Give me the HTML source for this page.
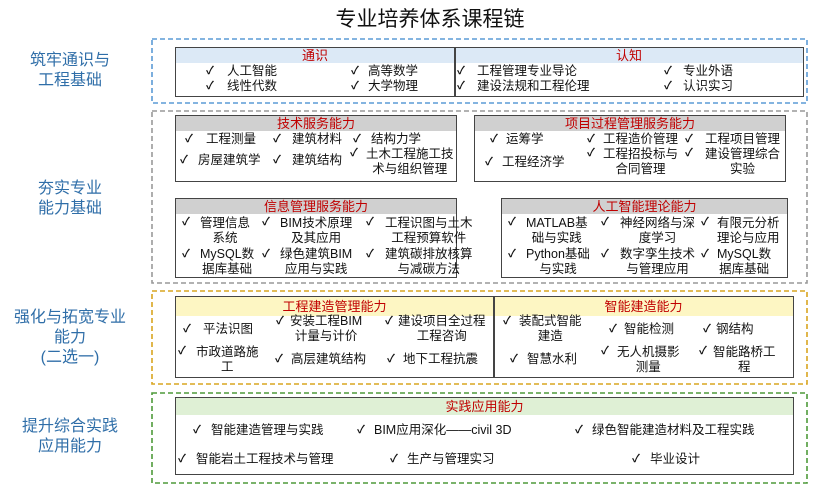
<!DOCTYPE html>
<html><head><meta charset="utf-8"><style>
body{margin:0;width:830px;height:489px;background:#fff;position:relative;overflow:hidden;font-family:"Liberation Sans","Noto Sans CJK SC",sans-serif;}
div,span{position:absolute;box-sizing:border-box;}
.t{font-size:12.5px;line-height:15px;color:#111;white-space:nowrap;}
.c{font-size:11px;line-height:15px;color:#111;font-weight:bold;}
.lab{color:#2f6ea8;font-size:16px;line-height:20px;text-align:center;width:140px;left:0;}
.ib{border:1.5px solid #444;}
.h{color:#c00000;font-size:13px;line-height:15px;text-align:center;}
svg{position:absolute;left:0;top:0;}
</style></head><body>
<div style="left:0;top:7px;width:860px;text-align:center;font-size:21px;line-height:26px;color:#111">专业培养体系课程链</div>

<div class="lab" style="top:51px">筑牢通识与<br>工程基础</div>
<div class="lab" style="top:179px">夯实专业<br>能力基础</div>
<div class="lab" style="top:308px">强化与拓宽专业<br>能力<br>(二选一)</div>
<div class="lab" style="top:417px">提升综合实践<br>应用能力</div>

<svg width="830" height="489" fill="none" stroke-width="1.6" stroke-dasharray="5 3">
<rect x="152" y="39" width="655" height="64" stroke="#5b9bd5"/>
<rect x="152" y="111" width="655" height="172" stroke="#999"/>
<rect x="152" y="291" width="655" height="93" stroke="#d9a520"/>
<rect x="152" y="393" width="655" height="90" stroke="#4e9a3a"/>
</svg>

<!-- 通识/认知 -->
<div class="ib" style="left:175px;top:47px;width:629px;height:50px"></div>
<div style="left:176px;top:48px;width:627px;height:15px;background:#dce9f6"></div>
<div style="left:454px;top:47px;width:1.5px;height:50px;background:#444"></div>
<div class="h" style="left:176px;top:48px;width:278px">通识</div>
<div class="h" style="left:455px;top:48px;width:348px">认知</div>
<span class="c" style="left:206px;top:64px">✓</span><span class="t" style="left:227px;top:64px">人工智能</span>
<span class="c" style="left:351px;top:64px">✓</span><span class="t" style="left:368px;top:64px">高等数学</span>
<span class="c" style="left:206px;top:79px">✓</span><span class="t" style="left:227px;top:79px">线性代数</span>
<span class="c" style="left:351px;top:79px">✓</span><span class="t" style="left:368px;top:79px">大学物理</span>
<span class="c" style="left:457px;top:64px">✓</span><span class="t" style="left:477px;top:64px">工程管理专业导论</span>
<span class="c" style="left:664px;top:64px">✓</span><span class="t" style="left:683px;top:64px">专业外语</span>
<span class="c" style="left:457px;top:79px">✓</span><span class="t" style="left:477px;top:79px">建设法规和工程伦理</span>
<span class="c" style="left:664px;top:79px">✓</span><span class="t" style="left:683px;top:79px">认识实习</span>

<!-- 技术服务能力 -->
<div class="ib" style="left:175px;top:115px;width:282px;height:67px"></div>
<div style="left:176px;top:116px;width:280px;height:15px;background:#d0d0d0"></div>
<div class="h" style="left:176px;top:116px;width:280px">技术服务能力</div>
<span class="c" style="left:185px;top:132px">✓</span><span class="t" style="left:206px;top:132px">工程测量</span>
<span class="c" style="left:273px;top:132px">✓</span><span class="t" style="left:292px;top:132px">建筑材料</span>
<span class="c" style="left:353px;top:132px">✓</span><span class="t" style="left:371px;top:132px">结构力学</span>
<span class="c" style="left:180px;top:153px">✓</span><span class="t" style="left:198px;top:153px">房屋建筑学</span>
<span class="c" style="left:273px;top:153px">✓</span><span class="t" style="left:292px;top:153px">建筑结构</span>
<span class="c" style="left:350px;top:146px">✓</span><span class="t" style="left:366px;top:147px;text-align:center">土木工程施工技<br>术与组织管理</span>

<!-- 项目过程 -->
<div class="ib" style="left:474px;top:115px;width:312px;height:67px"></div>
<div style="left:475px;top:116px;width:310px;height:15px;background:#d0d0d0"></div>
<div class="h" style="left:475px;top:116px;width:310px">项目过程管理服务能力</div>
<span class="c" style="left:490px;top:132px">✓</span><span class="t" style="left:506px;top:132px">运筹学</span>
<span class="c" style="left:587px;top:132px">✓</span><span class="t" style="left:603px;top:132px">工程造价管理</span>
<span class="c" style="left:685px;top:132px">✓</span><span class="t" style="left:705px;top:132px">工程项目管理</span>
<span class="c" style="left:485px;top:155px">✓</span><span class="t" style="left:502px;top:155px">工程经济学</span>
<span class="c" style="left:587px;top:146px">✓</span><span class="t" style="left:603px;top:147px;text-align:center">工程招投标与<br>合同管理</span>
<span class="c" style="left:685px;top:146px">✓</span><span class="t" style="left:705px;top:147px;text-align:center">建设管理综合<br>实验</span>

<!-- 信息管理 -->
<div class="ib" style="left:175px;top:198px;width:282px;height:80px"></div>
<div style="left:176px;top:199px;width:280px;height:15px;background:#d0d0d0"></div>
<div class="h" style="left:176px;top:199px;width:280px">信息管理服务能力</div>
<span class="c" style="left:182px;top:215px">✓</span><span class="t" style="left:200px;top:216px;text-align:center">管理信息<br>系统</span>
<span class="c" style="left:262px;top:215px">✓</span><span class="t" style="left:280px;top:216px;text-align:center">BIM技术原理<br>及其应用</span>
<span class="c" style="left:366px;top:215px">✓</span><span class="t" style="left:385px;top:216px;text-align:center">工程识图与土木<br>工程预算软件</span>
<span class="c" style="left:182px;top:247px">✓</span><span class="t" style="left:200px;top:247px;text-align:center">MySQL数<br>据库基础</span>
<span class="c" style="left:262px;top:247px">✓</span><span class="t" style="left:280px;top:247px;text-align:center">绿色建筑BIM<br>应用与实践</span>
<span class="c" style="left:366px;top:247px">✓</span><span class="t" style="left:385px;top:247px;text-align:center">建筑碳排放核算<br>与减碳方法</span>

<!-- 人工智能理论 -->
<div class="ib" style="left:501px;top:198px;width:287px;height:80px"></div>
<div style="left:502px;top:199px;width:285px;height:15px;background:#d0d0d0"></div>
<div class="h" style="left:502px;top:199px;width:285px">人工智能理论能力</div>
<span class="c" style="left:508px;top:215px">✓</span><span class="t" style="left:526px;top:216px;text-align:center">MATLAB基<br>础与实践</span>
<span class="c" style="left:601px;top:215px">✓</span><span class="t" style="left:620px;top:216px;text-align:center">神经网络与深<br>度学习</span>
<span class="c" style="left:701px;top:215px">✓</span><span class="t" style="left:717px;top:216px;text-align:center">有限元分析<br>理论与应用</span>
<span class="c" style="left:508px;top:247px">✓</span><span class="t" style="left:526px;top:247px;text-align:center">Python基础<br>与实践</span>
<span class="c" style="left:601px;top:247px">✓</span><span class="t" style="left:620px;top:247px;text-align:center">数字孪生技术<br>与管理应用</span>
<span class="c" style="left:701px;top:247px">✓</span><span class="t" style="left:717px;top:247px;text-align:center">MySQL数<br>据库基础</span>

<!-- 建造 -->
<div class="ib" style="left:175px;top:296px;width:619px;height:82px"></div>
<div style="left:176px;top:297px;width:617px;height:19px;background:#fdf6c3"></div>
<div style="left:493px;top:296px;width:1.5px;height:82px;background:#444"></div>
<div class="h" style="left:176px;top:299px;width:317px">工程建造管理能力</div>
<div class="h" style="left:494px;top:299px;width:299px">智能建造能力</div>
<span class="c" style="left:183px;top:322px">✓</span><span class="t" style="left:203px;top:322px">平法识图</span>
<span class="c" style="left:276px;top:314px">✓</span><span class="t" style="left:290px;top:314px;text-align:center">安装工程BIM<br>计量与计价</span>
<span class="c" style="left:385px;top:314px">✓</span><span class="t" style="left:398px;top:314px;text-align:center">建设项目全过程<br>工程咨询</span>
<span class="c" style="left:178px;top:344px">✓</span><span class="t" style="left:196px;top:345px;text-align:center">市政道路施<br>工</span>
<span class="c" style="left:275px;top:352px">✓</span><span class="t" style="left:291px;top:352px">高层建筑结构</span>
<span class="c" style="left:387px;top:352px">✓</span><span class="t" style="left:403px;top:352px">地下工程抗震</span>
<span class="c" style="left:503px;top:314px">✓</span><span class="t" style="left:519px;top:314px;text-align:center">装配式智能<br>建造</span>
<span class="c" style="left:609px;top:322px">✓</span><span class="t" style="left:624px;top:322px">智能检测</span>
<span class="c" style="left:703px;top:322px">✓</span><span class="t" style="left:716px;top:322px">钢结构</span>
<span class="c" style="left:510px;top:352px">✓</span><span class="t" style="left:527px;top:352px">智慧水利</span>
<span class="c" style="left:601px;top:344px">✓</span><span class="t" style="left:617px;top:345px;text-align:center">无人机摄影<br>测量</span>
<span class="c" style="left:699px;top:344px">✓</span><span class="t" style="left:713px;top:345px;text-align:center">智能路桥工<br>程</span>

<!-- 实践 -->
<div class="ib" style="left:175px;top:397px;width:619px;height:78px"></div>
<div style="left:176px;top:398px;width:617px;height:17px;background:#dff0d5"></div>
<div class="h" style="left:176px;top:399px;width:617px">实践应用能力</div>
<span class="c" style="left:193px;top:423px">✓</span><span class="t" style="left:211px;top:423px">智能建造管理与实践</span>
<span class="c" style="left:357px;top:423px">✓</span><span class="t" style="left:374px;top:423px">BIM应用深化——civil 3D</span>
<span class="c" style="left:575px;top:423px">✓</span><span class="t" style="left:592px;top:423px">绿色智能建造材料及工程实践</span>
<span class="c" style="left:178px;top:452px">✓</span><span class="t" style="left:196px;top:452px">智能岩土工程技术与管理</span>
<span class="c" style="left:390px;top:452px">✓</span><span class="t" style="left:407px;top:452px">生产与管理实习</span>
<span class="c" style="left:632px;top:452px">✓</span><span class="t" style="left:650px;top:452px">毕业设计</span>
</body></html>
